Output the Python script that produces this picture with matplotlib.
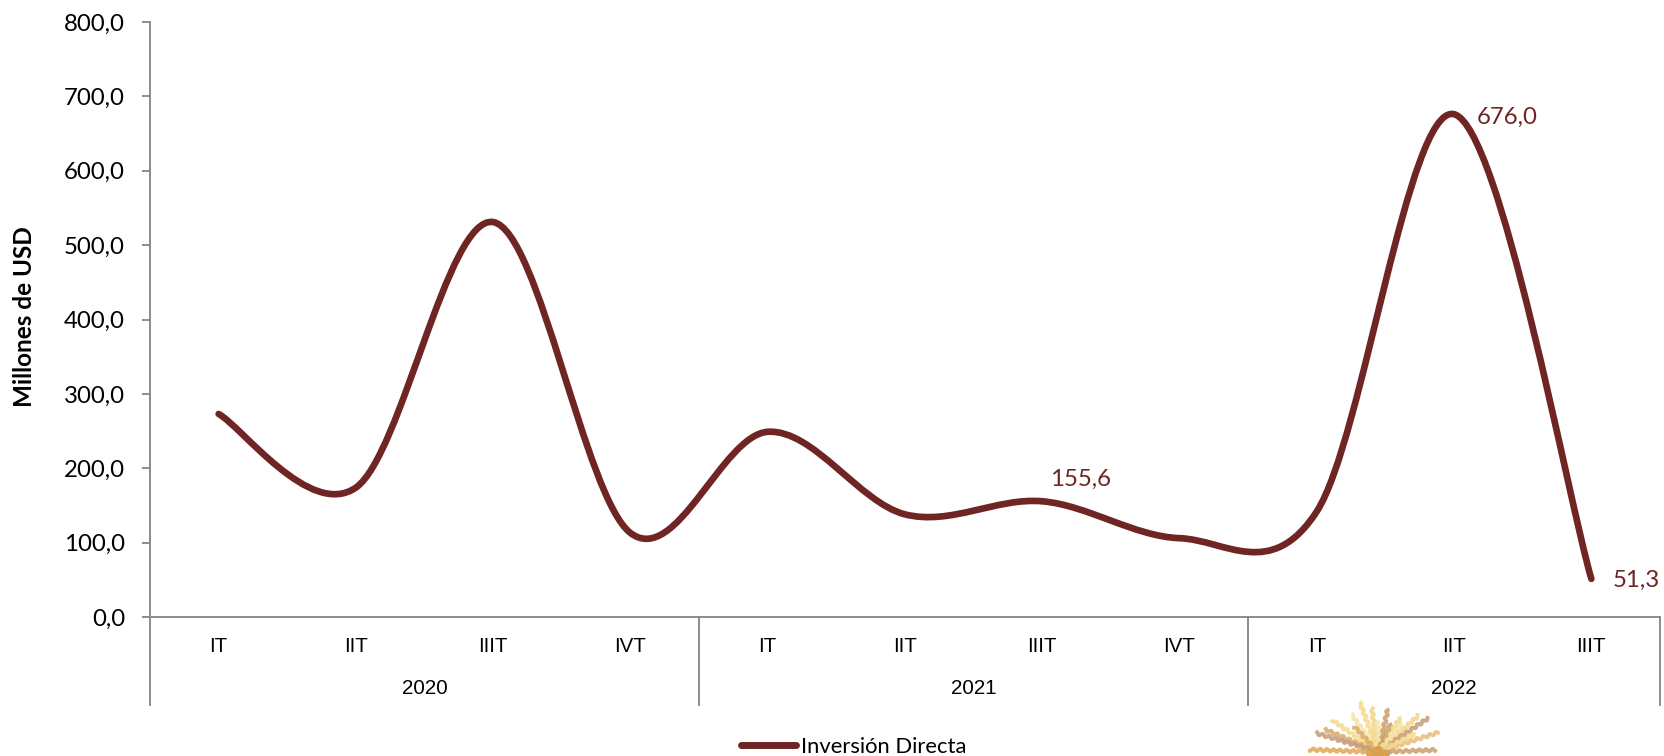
import numpy as np
import matplotlib
matplotlib.use("Agg")
import matplotlib.pyplot as plt
from matplotlib.path import Path
from matplotlib.patches import PathPatch, Circle
from matplotlib.lines import Line2D
from matplotlib.transforms import blended_transform_factory, IdentityTransform

# data
trimestres = ["IT", "IIT", "IIIT", "IVT", "IT", "IIT", "IIIT", "IVT", "IT", "IIT", "IIIT"]
valores = [273.0, 174.0, 531.0, 113.0, 249.0, 138.0, 155.6, 106.0, 142.0, 676.0, 51.3]
anios = ["2020", "2021", "2022"]
trimestres_por_anio = [4, 4, 3]
etiquetas = {6: "155,6", 9: "676,0", 10: "51,3"}
yticks = [0, 100, 200, 300, 400, 500, 600, 700, 800]

# logo at the bottom: ray angle (deg) and length (px)
rayos_ang = [110, 98, 77, 125, 145, 157, 163, 178, 57, 42, 34, 18, 2, 90, 133, 66, 50, 26]
rayos_len = [52, 44, 43, 45, 55, 57, 64, 68, 40, 54, 60, 63, 57, 30, 34, 30, 36, 40]
rayos_col = ["#F5D98A", "#F3D48A", "#C9A06A", "#F7E3A8", "#F5D98A", "#D9A866", "#C49A78", "#E0A850",
             "#F5D98A", "#F3D48A", "#C49A78", "#E8BE7A", "#C9A06A", "#F7E3A8", "#D9A866", "#C9A06A",
             "#F7E3A8", "#F5D98A"]

COLOR = "#6F2524"
GRIS = "#8C8C8C"
W, H = 1664, 756

plt.rcParams["font.family"] = ["Lato", "DejaVu Sans"]
fig = plt.figure(figsize=(W / 100, H / 100), dpi=100)
ax = fig.add_axes([150 / W, 1 - 617 / H, (1660 - 150) / W, (617 - 22) / H])

x = np.arange(len(valores))
ax.set_xlim(-0.5, len(valores) - 0.5)
ax.set_ylim(0, 800)


# smooth line like excel: bezier segments through the points
def curva(xs, ys):
    pts = np.column_stack([xs, ys])
    verts = [pts[0]]
    codes = [Path.MOVETO]
    for i in range(len(pts) - 1):
        p0 = pts[max(i - 1, 0)]
        p1 = pts[i]
        p2 = pts[i + 1]
        p3 = pts[min(i + 2, len(pts) - 1)]
        verts += [p1 + (p2 - p0) / 6, p2 - (p3 - p1) / 6, p2]
        codes += [Path.CURVE4] * 3
    return Path(verts, codes)


ax.add_patch(PathPatch(curva(x, valores), fc="none", ec=COLOR, lw=4.8, capstyle="round", joinstyle="round", clip_on=False))

# data labels
offsets = {6: (27.5, 16), 9: (38, -2), 10: (32.5, -1)}
for i, txt in etiquetas.items():
    ax.annotate(txt, (x[i], valores[i]), xytext=offsets[i], textcoords="offset points",
                color=COLOR, fontsize=17.3, ha="center", va="center", annotation_clip=False)

# axes
for s in ["top", "right"]:
    ax.spines[s].set_visible(False)
for s in ["left", "bottom"]:
    ax.spines[s].set_color(GRIS)
    ax.spines[s].set_linewidth(1.4)
ax.set_yticks(yticks)
ax.set_yticklabels([f"{v:.1f}".replace(".", ",") for v in yticks], fontsize=17.3, color="black")
ax.tick_params(axis="y", length=6, width=1.4, color=GRIS, pad=12)
ax.set_xticks([])
ax.set_ylabel("Millones de USD", fontsize=17.5, fontweight="bold")
ax.yaxis.set_label_coords((36 - 150) / 1510, 0.505)

# two level category axis
trans = blended_transform_factory(ax.transData, ax.transAxes)
fam = ["Liberation Sans", "DejaVu Sans"]
y_trim = -(646 - 617) / 595
y_anio = -(689 - 617) / 595
y_fin = -(705 - 617) / 595
for xi, t in zip(x, trimestres):
    ax.text(xi, y_trim, t, transform=trans, ha="center", va="center", fontsize=14.8, family=fam)
ini = -0.5
bordes = [ini]
for a, n in zip(anios, trimestres_por_anio):
    ax.text(ini + n / 2, y_anio, a, transform=trans, ha="center", va="center", fontsize=14.8, family=fam)
    ini += n
    bordes.append(ini)
for b in bordes:
    ax.add_line(Line2D([b, b], [0, y_fin], transform=trans, color=GRIS, lw=1.4, clip_on=False))

# legend
leg = ax.legend([Line2D([0], [0], color=COLOR, lw=5, solid_capstyle="round")], ["Inversión Directa"],
                frameon=False, fontsize=15.8, handlelength=2.5, handletextpad=0.25,
                loc="center", bbox_to_anchor=(854 / W, 1 - 747 / H), bbox_transform=fig.transFigure)

# logo, cut by the bottom edge (pixels, y from the bottom)
cx, cy = 1378, H - 752
for ang, largo, col in zip(rayos_ang, rayos_len, rayos_col):
    t = np.linspace(8, largo, int(largo * 2))
    a = np.radians(ang)
    onda = 1.2 * np.sin(t * 0.95)
    fig.add_artist(Line2D(cx + t * np.cos(a) - onda * np.sin(a), cy + t * np.sin(a) + onda * np.cos(a),
                          transform=IdentityTransform(), color=col, lw=2.8, alpha=0.85))
fig.add_artist(Circle((cx, cy), 12, transform=IdentityTransform(), fc="#D9A04E", ec="none"))

fig.savefig("out.png", dpi=100)
